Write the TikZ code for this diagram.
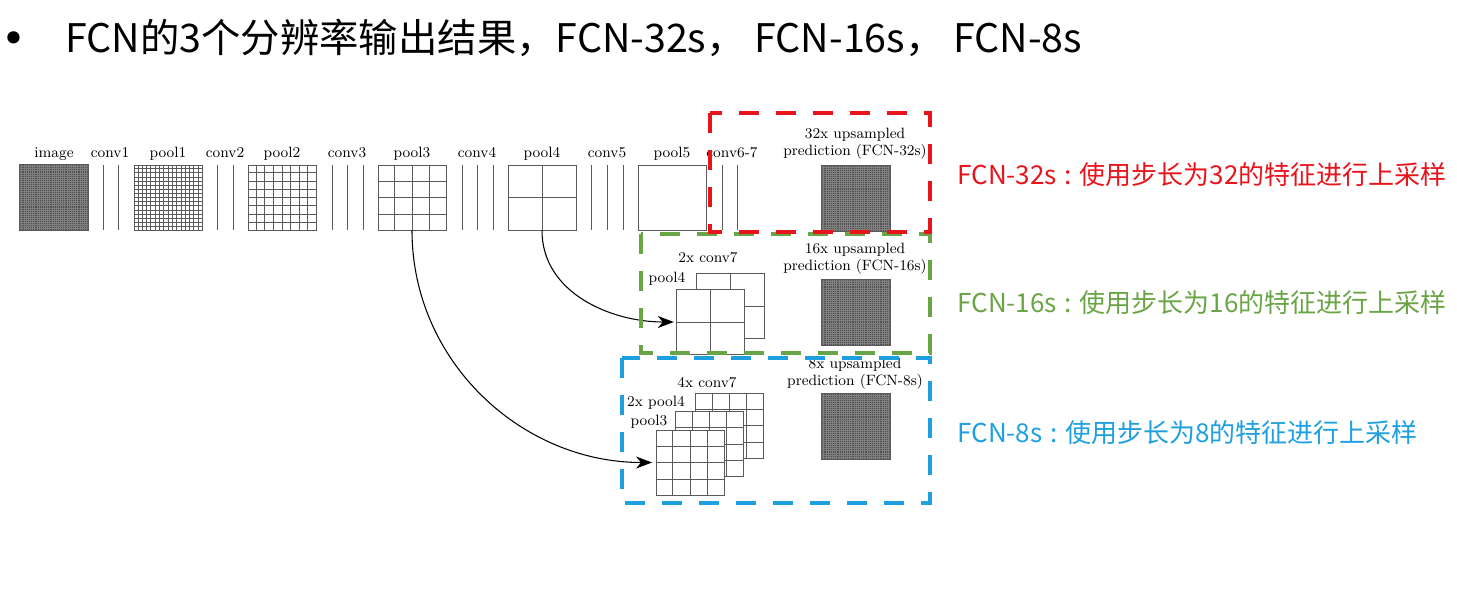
\documentclass[tikz,border=0pt]{standalone}
\usepackage{fontspec}
\newfontfamily\cjk{Noto Sans CJK SC}
\newfontfamily\sym{DejaVu Sans}
\usetikzlibrary{arrows.meta,positioning,calc}
\definecolor{Edge}{HTML}{5A5A5A}
\definecolor{Dark}{HTML}{4E4E4E}
\definecolor{DarkLine}{HTML}{808080}
\definecolor{Red}{HTML}{E8141B}
\definecolor{Green}{HTML}{6AA545}
\definecolor{Blue}{HTML}{1EA0E0}

\begin{document}
\begin{tikzpicture}[
  fmap/.style={draw=Edge,fill=white,line width=0.5pt,minimum width=1.36cm,minimum height=1.30cm,inner sep=0pt},
  dmap/.style={fmap,fill=Dark},
  lab/.style={font=\fontsize{8.5}{9.7}\selectfont,inner sep=1pt,align=center,text height=1.6ex,text depth=0.4ex},
  lab2/.style={font=\fontsize{8.5}{9.7}\selectfont,inner sep=1pt,align=center},
  convline/.style={draw=Edge,line width=0.5pt},
  gridline/.style={draw=Edge,line width=0.4pt},
  darkline/.style={draw=DarkLine,line width=0.3pt},
  arrow/.style={-{Stealth[length=3.2mm,width=2.4mm,inset=1mm]},line width=0.6pt,draw=black},
  dashbox/.style={line width=2.8pt,dash pattern=on 0.4cm off 0.34cm},
  note/.style={anchor=west,font=\cjk\fontsize{14.8}{17}\selectfont,inner sep=0pt}
]
\useasboundingbox (0,0) rectangle (29.14,-11.88);

% title
\node[anchor=base,font=\sym\fontsize{24}{26}\selectfont,inner sep=0pt] (bullet) at (0.28,-1.07) {•};
\node[anchor=west,font=\cjk\fontsize{22.4}{26}\selectfont,inner sep=0pt] (title) at (1.3,-0.76) {FCN的3个分辨率输出结果，FCN-32s， FCN-16s， FCN-8s};

% main row
\node[dmap] (image) at (1.08,-3.95) {};
\node[fmap] (pool1) at (3.36,-3.95) {};
\node[fmap] (pool2) at (5.64,-3.95) {};
\node[fmap] (pool3) at (8.24,-3.95) {};
\node[fmap] (pool4) at (10.84,-3.95) {};
\node[fmap] (pool5) at (13.44,-3.95) {};
\node[dmap] (pred32) at (17.12,-3.96) {};
\node[dmap] (pred16) at (17.12,-6.25) {};
\node[dmap] (pred8) at (17.12,-8.52) {};

\foreach \m/\n in {pool1/16,pool2/8,pool3/4,pool4/2}{
  \pgfmathtruncatemacro\last{\n-1}
  \foreach \k in {1,...,\last}{
    \draw[gridline] ($(\m.south west)!\k/\n!(\m.south east)$) -- ($(\m.north west)!\k/\n!(\m.north east)$);
    \draw[gridline] ($(\m.south west)!\k/\n!(\m.north west)$) -- ($(\m.south east)!\k/\n!(\m.north east)$);
  }
}
\foreach \m in {image,pred32,pred16,pred8}{
  \foreach \k in {1,...,31}{
    \draw[darkline] ($(\m.south west)!\k/32!(\m.south east)$) -- ($(\m.north west)!\k/32!(\m.north east)$);
    \draw[darkline] ($(\m.south west)!\k/32!(\m.north west)$) -- ($(\m.south east)!\k/32!(\m.north east)$);
  }
  \draw[draw=Edge,line width=0.5pt] (\m.south west) rectangle (\m.north east);
}

% conv layers
\foreach \x in {2.06,2.36,4.34,4.66,6.64,6.94,7.26,9.24,9.54,9.86,11.82,12.14,12.46,14.44,14.74}
  \draw[convline] (\x,-3.30) -- (\x,-4.60);

\foreach \x/\t in {1.08/image,2.2/conv1,3.36/pool1,4.5/conv2,5.64/pool2,6.94/conv3,8.24/pool3,9.54/conv4,10.84/pool4,12.14/conv5,13.44/pool5,14.64/conv6-7}
  \node[lab] (t-\t) at (\x,-3.06) {\t};

% skip stacks
\foreach \nm/\px/\py/\n in {c7a/14.60/-6.12/2,p4a/14.20/-6.44/2,c7b/14.59/-8.51/4,p4b/14.19/-8.88/4,p3b/13.80/-9.25/4}{
  \node[fmap] (\nm) at (\px,\py) {};
  \pgfmathtruncatemacro\last{\n-1}
  \foreach \k in {1,...,\last}{
    \draw[gridline] ($(\nm.south west)!\k/\n!(\nm.south east)$) -- ($(\nm.north west)!\k/\n!(\nm.north east)$);
    \draw[gridline] ($(\nm.south west)!\k/\n!(\nm.north west)$) -- ($(\nm.south east)!\k/\n!(\nm.north east)$);
  }
}

\node[lab2] (u32) at (17.1,-2.87) {32x upsampled\\prediction (FCN-32s)};
\node[lab2] (u16) at (17.1,-5.18) {16x upsampled\\prediction (FCN-16s)};
\node[lab2] (u8) at (17.1,-7.48) {8x upsampled\\prediction (FCN-8s)};
\node[lab] (t-c7a) at (14.16,-5.16) {2x conv7};
\node[lab] (t-p4a) at (13.34,-5.56) {pool4};
\node[lab] (t-c7b) at (14.14,-7.66) {4x conv7};
\node[lab] (t-p4b) at (13.12,-8.04) {2x pool4};
\node[lab] (t-p3b) at (12.98,-8.42) {pool3};

\draw[arrow] (pool4.south) to[out=-90,in=180] ([xshift=-1pt]p4a.west);
\draw[arrow] (pool3.south) to[out=-90,in=180] ([xshift=-2pt]p3b.west);

% outputs
\draw[dashbox,draw=Green] (12.82,-4.68) rectangle (18.6,-7.06);
\draw[dashbox,draw=Blue] (12.44,-7.16) rectangle (18.6,-10.06);
\draw[dashbox,draw=Red] (14.2,-2.26) rectangle (18.6,-4.64);

\node[note,text=Red] (n32) at (19.14,-3.50) {FCN-32s\hspace{0.3em}:\hspace{0.3em}使用步长为32的特征进行上采样};
\node[note,text=Green] (n16) at (19.14,-6.06) {FCN-16s\hspace{0.3em}:\hspace{0.3em}使用步长为16的特征进行上采样};
\node[note,text=Blue] (n8) at (19.14,-8.66) {FCN-8s\hspace{0.3em}:\hspace{0.3em}使用步长为8的特征进行上采样};
\end{tikzpicture}
\end{document}
